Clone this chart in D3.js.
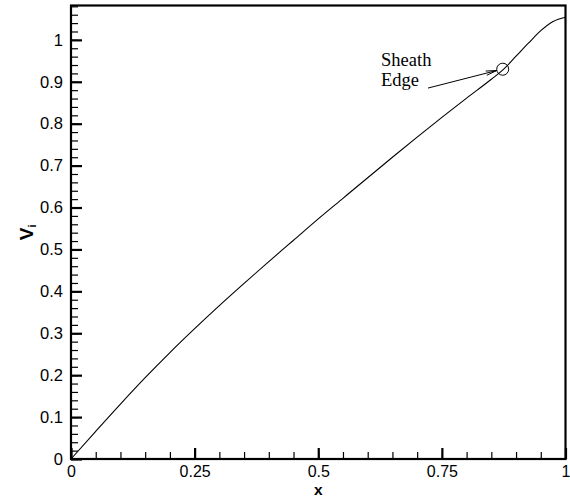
<!DOCTYPE html>
<html>
<head>
<meta charset="utf-8">
<script src="https://cdn.jsdelivr.net/npm/d3@7"></script>
<style>
  body { margin: 0; background: #fff; }
  svg { display: block; }
</style>
</head>
<body>
<div id="chart"></div>
<script>
// ion velocity profile
const xValues  = [0, 0.05, 0.1, 0.15, 0.2, 0.25, 0.3, 0.35, 0.4, 0.45, 0.5, 0.55, 0.6, 0.65, 0.7, 0.75, 0.8, 0.85, 0.875, 0.9, 0.925, 0.95, 0.975, 1.0];
const viValues = [0, 0.066, 0.131, 0.194, 0.254, 0.311, 0.366, 0.419, 0.471, 0.522, 0.573, 0.622, 0.671, 0.720, 0.768, 0.815, 0.861, 0.906, 0.930, 0.961, 0.992, 1.022, 1.044, 1.054];

const xTicks = [0, 0.25, 0.5, 0.75, 1];
const xTickLabels = ["0", "0.25", "0.5", "0.75", "1"];
const yTicks = [0, 0.1, 0.2, 0.3, 0.4, 0.5, 0.6, 0.7, 0.8, 0.9, 1];

// sheath edge marker + annotation
const sheathEdge = {x: 0.873, v: 0.930};
const annotationLines = ["Sheath", "Edge"];

const width = 570, height = 499;
const margin = {top: 5.5, right: 4.5, bottom: 40, left: 71};

const svg = d3.select("#chart").append("svg")
    .attr("width", width)
    .attr("height", height);

const x = d3.scaleLinear()
    .domain([0, 1])
    .range([margin.left, width - margin.right]);

const y = d3.scaleLinear()
    .domain([0, 1.082])
    .range([height - margin.bottom, margin.top]);

const fontAxis = "Arial, 'Liberation Sans', sans-serif";

// minor ticks first (no labels)
svg.append("g")
    .attr("transform", `translate(0, ${y(0)})`)
    .call(d3.axisBottom(x).tickValues(d3.range(0, 1.0001, 0.05)).tickSize(-7).tickFormat(""))
    .call(g => g.select(".domain").remove())
    .selectAll("line").attr("stroke", "#000").attr("stroke-width", 1.2);

svg.append("g")
    .attr("transform", `translate(${x(0)}, 0)`)
    .call(d3.axisLeft(y).tickValues(d3.range(0, 1.081, 0.02)).tickSize(-7).tickFormat(""))
    .call(g => g.select(".domain").remove())
    .selectAll("line").attr("stroke", "#000").attr("stroke-width", 1.2);

// major ticks with labels
const xAxis = svg.append("g")
    .attr("transform", `translate(0, ${y(0)})`)
    .call(d3.axisBottom(x).tickValues(xTicks).tickSize(-11).tickPadding(7)
        .tickFormat((d, i) => xTickLabels[i]));
xAxis.select(".domain").remove();
xAxis.selectAll("line").attr("stroke", "#000").attr("stroke-width", 2.2);
xAxis.selectAll("text")
    .style("font-family", fontAxis)
    .style("font-size", "16px")
    .attr("fill", "#000");

const yAxis = svg.append("g")
    .attr("transform", `translate(${x(0)}, 0)`)
    .call(d3.axisLeft(y).tickValues(yTicks).tickSize(-11).tickPadding(8)
        .tickFormat(d3.format("~g")));
yAxis.select(".domain").remove();
yAxis.selectAll("line").attr("stroke", "#000").attr("stroke-width", 2.2);
yAxis.selectAll("text")
    .style("font-family", fontAxis)
    .style("font-size", "16.5px")
    .attr("fill", "#000");

// frame
svg.append("rect")
    .attr("x", x(0))
    .attr("y", y.range()[1])
    .attr("width", x(1) - x(0))
    .attr("height", y(0) - y.range()[1])
    .attr("fill", "none")
    .attr("stroke", "#000")
    .attr("stroke-width", 2.2);

// curve
const data = xValues.map((d, i) => ({x: d, v: viValues[i]}));
const line = d3.line()
    .x(d => x(d.x))
    .y(d => y(d.v))
    .curve(d3.curveMonotoneX);

svg.append("path")
    .datum(data)
    .attr("d", line)
    .attr("fill", "none")
    .attr("stroke", "#000")
    .attr("stroke-width", 1.1);

// sheath edge marker
svg.append("circle")
    .attr("cx", x(sheathEdge.x))
    .attr("cy", y(sheathEdge.v))
    .attr("r", 6)
    .attr("fill", "none")
    .attr("stroke", "#000")
    .attr("stroke-width", 1);

// annotation text
const note = svg.append("text")
    .attr("x", x(0.627))
    .attr("y", y(0.938))
    .style("font-family", "'Times New Roman', 'Liberation Serif', serif")
    .style("font-size", "18.5px")
    .attr("fill", "#000");
note.selectAll("tspan")
    .data(annotationLines)
    .join("tspan")
    .attr("x", x(0.627))
    .attr("dy", (d, i) => i === 0 ? 0 : "1.08em")
    .text(d => d);

// arrow to the marker
const ax0 = x(0.722), ay0 = y(0.885);
const ax1 = x(sheathEdge.x) - 6, ay1 = y(sheathEdge.v) + 1.3;
const ang = Math.atan2(ay1 - ay0, ax1 - ax0);
const headLen = 11, headAng = 0.2;
svg.append("path")
    .attr("d", `M${ax0},${ay0}L${ax1},${ay1}`
        + `M${ax1 - headLen * Math.cos(ang - headAng)},${ay1 - headLen * Math.sin(ang - headAng)}L${ax1},${ay1}`
        + `L${ax1 - headLen * Math.cos(ang + headAng)},${ay1 - headLen * Math.sin(ang + headAng)}`)
    .attr("fill", "none")
    .attr("stroke", "#000")
    .attr("stroke-width", 1);

// axis titles
svg.append("text")
    .attr("x", (x(0) + x(1)) / 2)
    .attr("y", 495)
    .attr("text-anchor", "middle")
    .style("font-family", fontAxis)
    .style("font-size", "15.5px")
    .style("font-weight", "bold")
    .text("x");

const yTitle = svg.append("text")
    .attr("transform", `translate(33, ${(y(0) + y.range()[1]) / 2}) rotate(-90)`)
    .attr("text-anchor", "middle")
    .style("font-family", fontAxis)
    .style("font-size", "19px")
    .style("font-weight", "bold");
yTitle.append("tspan").text("V");
yTitle.append("tspan")
    .attr("dy", "0.3em")
    .style("font-size", "11px")
    .text("i");
</script>
</body>
</html>
